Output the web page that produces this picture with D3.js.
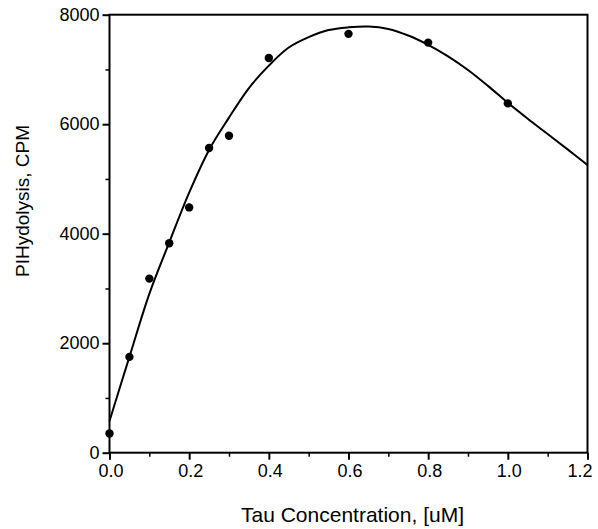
<!DOCTYPE html>
<html>
<head>
  <meta charset="UTF-8">
  <script src="https://d3js.org/d3.v7.min.js"></script>
  <style>
    body { margin: 0; background: #fff; }
    text { font-family: "Liberation Sans", Arial, sans-serif; fill: #000; }
  </style>
</head>
<body>
  <svg></svg>
<script>
  let width = 598,
    height = 529;

  // measured points
  let tauConc = [0.0, 0.05, 0.1, 0.15, 0.2, 0.25, 0.3, 0.4, 0.6, 0.8, 1.0];
  let hydrolysis = [350, 1750, 3180, 3825, 4480, 5565, 5790, 7210, 7650, 7490, 6380];

  // fitted curve
  let curveX = [0.0, 0.05, 0.1, 0.15, 0.2, 0.25, 0.3, 0.35, 0.4, 0.45, 0.5, 0.55, 0.6, 0.65, 0.7, 0.75, 0.8, 0.85, 0.9, 0.95, 1.0, 1.05, 1.1, 1.15, 1.2];
  let curveY = [580, 1750, 2900, 3840, 4750, 5530, 6120, 6660, 7070, 7400, 7590, 7720, 7770, 7785, 7740, 7620, 7450, 7240, 6990, 6700, 6390, 6100, 5820, 5540, 5255];

  let xTicks = [0, 0.2, 0.4, 0.6, 0.8, 1.0, 1.2];
  let xMinor = [0.1, 0.3, 0.5, 0.7, 0.9, 1.1];
  let yTicks = [0, 2000, 4000, 6000, 8000];
  let yMinor = [1000, 3000, 5000, 7000];

  let margin = { left: 109.5, right: 10.5, top: 14.7, bottom: 76.3 };

  let svg = d3.select("svg")
    .attr("width", width)
    .attr("height", height);

  let x = d3.scaleLinear()
    .domain([0, 1.2])
    .range([margin.left, width - margin.right]);

  let y = d3.scaleLinear()
    .domain([0, 8000])
    .range([height - margin.bottom, margin.top]);

  // frame
  svg.append("rect")
    .attr("x", x(0))
    .attr("y", y(8000))
    .attr("width", x(1.2) - x(0))
    .attr("height", y(0) - y(8000))
    .attr("fill", "none")
    .attr("stroke", "#000")
    .attr("stroke-width", 2);

  // x axis
  let xAxis = svg.append("g")
    .attr("transform", "translate(0," + y(0) + ")")
    .call(d3.axisBottom(x).tickValues(xTicks).tickSize(7).tickPadding(5)
      .tickFormat(d3.format(".1f")));
  xAxis.select(".domain").remove();
  xAxis.selectAll(".tick line").attr("stroke-width", 2);
  xAxis.selectAll("text")
    .style("font-size", "18px")
    .attr("dx", d => d == 1.2 ? -8 : 1);

  svg.append("g")
    .attr("transform", "translate(0," + y(0) + ")")
    .call(d3.axisBottom(x).tickValues(xMinor).tickSize(4).tickFormat(""))
    .call(g => g.select(".domain").remove())
    .selectAll(".tick line").attr("stroke-width", 1.5);

  // y axis
  let yAxis = svg.append("g")
    .attr("transform", "translate(" + x(0) + ",0)")
    .call(d3.axisLeft(y).tickValues(yTicks).tickSize(7).tickPadding(3)
      .tickFormat(d3.format("d")));
  yAxis.select(".domain").remove();
  yAxis.selectAll(".tick line").attr("stroke-width", 2);
  yAxis.selectAll("text").style("font-size", "18px");

  svg.append("g")
    .attr("transform", "translate(" + x(0) + ",0)")
    .call(d3.axisLeft(y).tickValues(yMinor).tickSize(4).tickFormat(""))
    .call(g => g.select(".domain").remove())
    .selectAll(".tick line").attr("stroke-width", 1.5);

  // fitted curve
  let line = d3.line()
    .x(d => x(d[0]))
    .y(d => y(d[1]))
    .curve(d3.curveCatmullRom.alpha(0.5));

  svg.append("path")
    .datum(d3.zip(curveX, curveY))
    .attr("d", line)
    .attr("fill", "none")
    .attr("stroke", "#000")
    .attr("stroke-width", 2);

  // data points
  svg.append("g")
    .selectAll("circle")
    .data(d3.zip(tauConc, hydrolysis))
    .enter()
    .append("circle")
    .attr("cx", d => x(d[0]))
    .attr("cy", d => y(d[1]))
    .attr("r", 4.2)
    .attr("fill", "#000");

  // axis titles
  svg.append("text")
    .attr("x", (x(0) + x(1.2)) / 2 + 4)
    .attr("y", 522)
    .attr("text-anchor", "middle")
    .style("font-size", "21px")
    .text("Tau Concentration, [uM]");

  svg.append("text")
    .attr("transform", "translate(29,201) rotate(-90)")
    .attr("text-anchor", "middle")
    .style("font-size", "19px")
    .text("PIHydolysis, CPM");
</script>
</body>
</html>
